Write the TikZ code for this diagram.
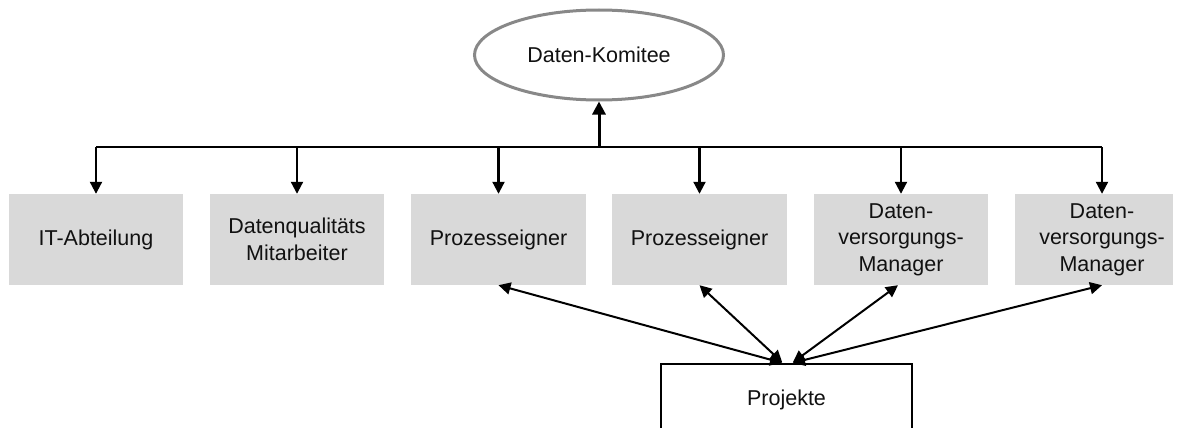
\documentclass[tikz,border=0pt]{standalone}
\usepackage{fontspec}
\setmainfont{Liberation Sans}
\usetikzlibrary{shapes.geometric,arrows.meta}
\definecolor{boxgray}{HTML}{D9D9D9}
\definecolor{rimgray}{HTML}{888888}
\definecolor{inkgray}{HTML}{111111}
\tikzset{
  txt/.style={font=\fontsize{21.5}{26.5}\selectfont, text=inkgray, align=center, inner sep=0pt},
  unitbox/.style={txt, rectangle, fill=boxgray, minimum height=91pt},
  committee/.style={txt, ellipse, draw=rimgray, line width=3pt, fill=white,
                    minimum width=249pt, minimum height=90pt},
  projbox/.style={txt, rectangle, draw=black, line width=1.8pt, fill=white,
                  minimum width=251pt, minimum height=72pt},
  tipA/.tip={Triangle[length=12pt,width=12pt]},
  busline/.style={line width=2.3pt},
  droparrow/.style={line width=2.1pt, -tipA},
  trunkarrow/.style={line width=3pt, -{Triangle[length=13pt,width=13pt]}},
  linkarrow/.style={line width=2pt, tipA-tipA, shorten <=1pt, shorten >=0pt}
}
\begin{document}
\begin{tikzpicture}[x=1pt,y=-1pt]
  \useasboundingbox (0,0) rectangle (1183,428);

  % committee at the top
  \node[committee] (kom) at (599,55) {Daten-Komitee};

  % row of units
  \node[unitbox, minimum width=174pt] (b1) at (96,239.5)  {IT-Abteilung};
  \node[unitbox, minimum width=174pt] (b2) at (297,239.5) {Datenqualitäts\\Mitarbeiter};
  \node[unitbox, minimum width=175pt] (b3) at (498.5,239.5) {Prozesseigner};
  \node[unitbox, minimum width=175pt] (b4) at (699.5,239.5) {Prozesseigner};
  \node[unitbox, minimum width=174pt] (b5) at (901,239.5) {Daten-\\versorgungs-\\Manager};
  \node[unitbox, minimum width=158pt] (b6) at (1094,239.5) {};
  \node[txt] (t6) at (1102,239.5) {Daten-\\versorgungs-\\Manager};

  % projects box, running off the lower edge
  \begin{scope}
    \clip (0,0) rectangle (1183,428);
    \node[projbox] (proj) at (786.5,400) {Projekte};
  \end{scope}

  % distribution bus
  \coordinate (hub) at (599,147);
  \draw[busline] (b1.north |- hub) -- (t6 |- hub);
  \draw[trunkarrow] (hub) -- (kom.south);

  \draw[droparrow] (b1.north |- hub) -- (b1.north);
  \draw[droparrow] (b2.north |- hub) -- (b2.north);
  \draw[droparrow] (b3.north |- hub) -- (b3.north);
  \draw[droparrow] (b4.north |- hub) -- (b4.north);
  \draw[droparrow] (b5.north |- hub) -- (b5.north);
  \draw[droparrow] (t6 |- hub) -- (t6 |- b6.north);

  % links between projects and units
  \coordinate (pl) at ([xshift=-3.5pt]proj.north);
  \coordinate (pr) at ([xshift=5.5pt]proj.north);
  \draw[linkarrow] (pl) -- (b3.south);
  \draw[linkarrow] (pl) -- (b4.south);
  \draw[linkarrow] (pr) -- ([xshift=-3pt]b5.south);
  \draw[linkarrow] (pr) -- (t6 |- b6.south);
\end{tikzpicture}
\end{document}
